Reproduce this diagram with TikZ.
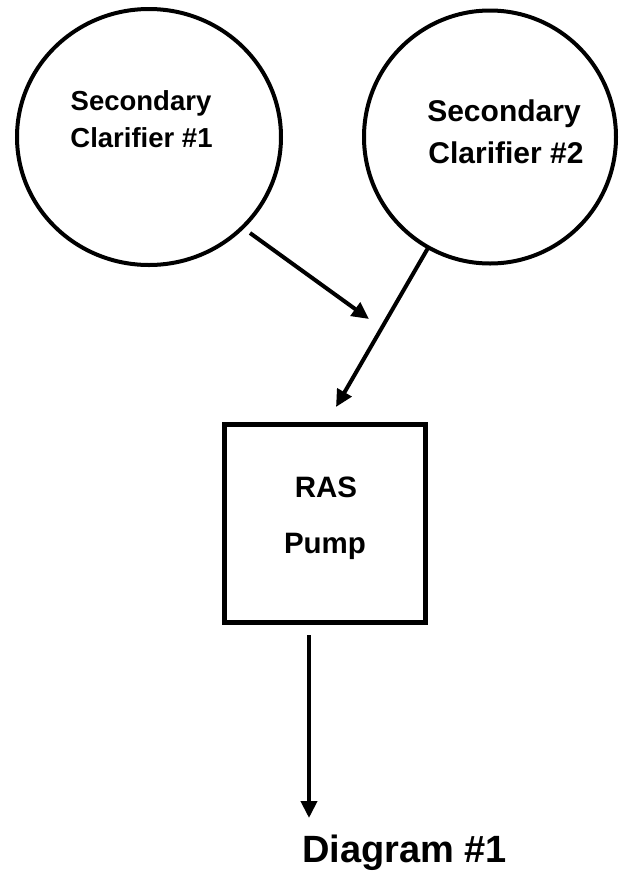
\documentclass[tikz,border=0pt]{standalone}
\usepackage{fontspec}
\setmainfont{Liberation Sans}
\usetikzlibrary{shapes.geometric,arrows.meta}
\begin{document}
\begin{tikzpicture}[x=1pt,y=-1pt,
  tank/.style={draw=black,line width=4pt,ellipse,inner sep=0pt},
  pumpbox/.style={draw=black,line width=5pt,rectangle,inner sep=0pt},
  lbl/.style={anchor=base,inner sep=0pt,font=\bfseries\fontsize{#1}{#1}\selectfont},
  flow/.style={line width=4pt,-{Triangle[length=17pt,width=16pt]}}]
\useasboundingbox (0,0) rectangle (619,871);
% clarifiers
\node[tank,minimum width=264pt,minimum height=256pt] (c1) at (149,137) {};
\node[tank,minimum width=252pt,minimum height=253pt] (c2) at (490,137) {};
\node[lbl=27.5] (c1a) at (141,110) {Secondary};
\node[lbl=27.5] (c1b) at (141.5,147) {Clarifier \#1};
\node[lbl=30] (c2a) at (504,121) {Secondary};
\node[lbl=30] (c2b) at (506,163) {Clarifier \#2};
% pump
\node[pumpbox,minimum width=201pt,minimum height=198pt] (p) at (325,523.5) {};
\node[lbl=29.5] (pa) at (326,497) {RAS};
\node[lbl=29.5] (pb) at (325,553) {Pump};
% caption
\node[lbl=38,anchor=base west] (cap) at (302,862) {Diagram \#1};
% connectors
\coordinate (a1s) at (250,233);
\coordinate (a1e) at (369,319);
\coordinate (a2s) at (428,248);
\coordinate (a2e) at (336,407);
\coordinate (a3s) at (309,635);
\coordinate (a3e) at (309,818);
\draw[flow] (a1s) -- (a1e);
\draw[flow] (a2s) -- (a2e);
\draw[flow] (a3s) -- (a3e);
\end{tikzpicture}
\end{document}
